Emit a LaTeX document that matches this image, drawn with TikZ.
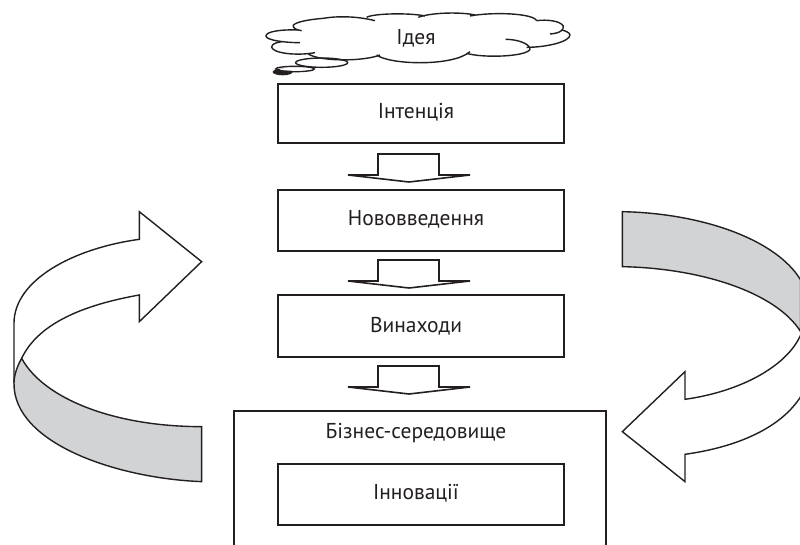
\documentclass[tikz,border=0pt]{standalone}
\usepackage{fontspec}
\setmainfont{PT Sans}
\definecolor{ink}{HTML}{231F20}
\definecolor{band}{HTML}{D1D3D4}
\tikzset{
  box/.style={draw=ink,line width=1.9pt,fill=white,minimum width=286pt,inner sep=0pt,anchor=north west},
  lbl/.style={font=\fontsize{21.5}{25}\selectfont,text=ink,inner sep=0pt},
  ln/.style={draw=ink,line width=1.4pt,line join=miter},
  blk/.style={draw=ink,line width=1.6pt,fill=white,line join=miter},
}
\begin{document}
\begin{tikzpicture}[x=1pt,y=-1pt]
\useasboundingbox (0,0) rectangle (800,545);
\clip (0,0) rectangle (800,545);
% outer environment box (open at the bottom edge)
\draw[draw=ink,line width=1.9pt] (234,546) -- (234,411) -- (606,411) -- (606,546);
\node[box,minimum height=59pt] (b1) at (277,83) {};
\node[box,minimum height=61pt] (b2) at (277,189) {};
\node[box,minimum height=62pt] (b3) at (277,294) {};
\node[box,minimum height=61pt] (b4) at (277,463) {};
\node[lbl] (t1) at (416,112) {Інтенція};
\node[lbl] (t2) at (416,219) {Нововведення};
\node[lbl] (t3) at (416,326) {Винаходи};
\node[lbl] (t4) at (416,433) {Бізнес-середовище};
\node[lbl] (t5) at (416,493) {Інновації};
\node[lbl] (t0) at (416,38) {Ідея};
% block arrows between boxes
\foreach \yy in {154,260,366}{
  \draw[blk] (378,\yy) -- (439,\yy) -- (439,\yy+21) -- (470,\yy+21) -- (409,\yy+28) -- (348,\yy+21) -- (378,\yy+21) -- cycle;
}
% cloud
\begin{scope}[shift={(240,0)},x=0.3333pt,y=-0.3333pt]
\draw[ln] (180,128) .. controls (130,128) and (78,120) .. (78,108) .. controls (78,95) and (120,88) .. (175,90);
\draw[ln] (125,125) .. controls (105,128) and (95,133) .. (95,142) .. controls (100,160) and (170,168) .. (225,158);
\draw[ln] (205,162) .. controls (240,185) and (370,185) .. (420,165);
\draw[ln] (410,165) .. controls (450,195) and (640,200) .. (690,155);
\draw[ln] (680,160) .. controls (730,175) and (860,170) .. (870,148) .. controls (870,130) and (830,118) .. (797,118);
\draw[ln] (860,142) .. controls (920,142) and (990,125) .. (990,105) .. controls (990,98) and (975,92) .. (965,90);
\draw[ln] (930,102) .. controls (960,100) and (972,90) .. (970,78) .. controls (960,62) and (920,58) .. (890,62);
\draw[ln] (890,62) .. controls (880,40) and (760,35) .. (690,48);
\draw[ln] (705,45) .. controls (660,35) and (570,38) .. (535,52);
\draw[ln] (555,48) .. controls (510,38) and (400,40) .. (380,52);
\draw[ln] (405,62) .. controls (350,48) and (290,48) .. (250,55) .. controls (190,60) and (155,70) .. (160,80) .. controls (162,85) and (170,90) .. (185,92);
\draw[ln] (245,188) ellipse [x radius=78,y radius=14];
\draw[ln] (165,207) ellipse [x radius=58,y radius=8];
\fill[ink] (128,216) ellipse [x radius=30,y radius=10];
\fill[white] (160,208) ellipse [x radius=40,y radius=4];
\end{scope}
% left curved arrow
\begin{scope}[shift={(0,200)},x=0.3333pt,y=-0.3333pt]
\draw[ln,fill=white] (42,550) -- (42,370) .. controls (42,240) and (220,145) .. (418,118) -- (418,35) -- (605,185) -- (418,365) -- (418,285) .. controls (250,315) and (115,370) .. (65,475);
\draw[ln,fill=band] (65,475) .. controls (130,595) and (340,680) .. (605,680) -- (605,845) .. controls (350,835) and (40,730) .. (42,550) .. controls (42,525) and (52,498) .. (65,475) -- cycle;
\end{scope}
% right curved arrow
\begin{scope}[shift={(600,200)},x=0.3333pt,y=-0.3333pt]
\draw[ln,fill=band] (67,35) .. controls (310,40) and (530,120) .. (602,240) -- (602,395) .. controls (530,280) and (310,205) .. (67,200) -- cycle;
\draw[ln,fill=white] (602,405) .. controls (560,500) and (420,575) .. (255,598) -- (255,515) -- (67,695) -- (255,845) -- (255,763) .. controls (420,740) and (545,680) .. (602,590);
\end{scope}
\end{tikzpicture}
\end{document}
